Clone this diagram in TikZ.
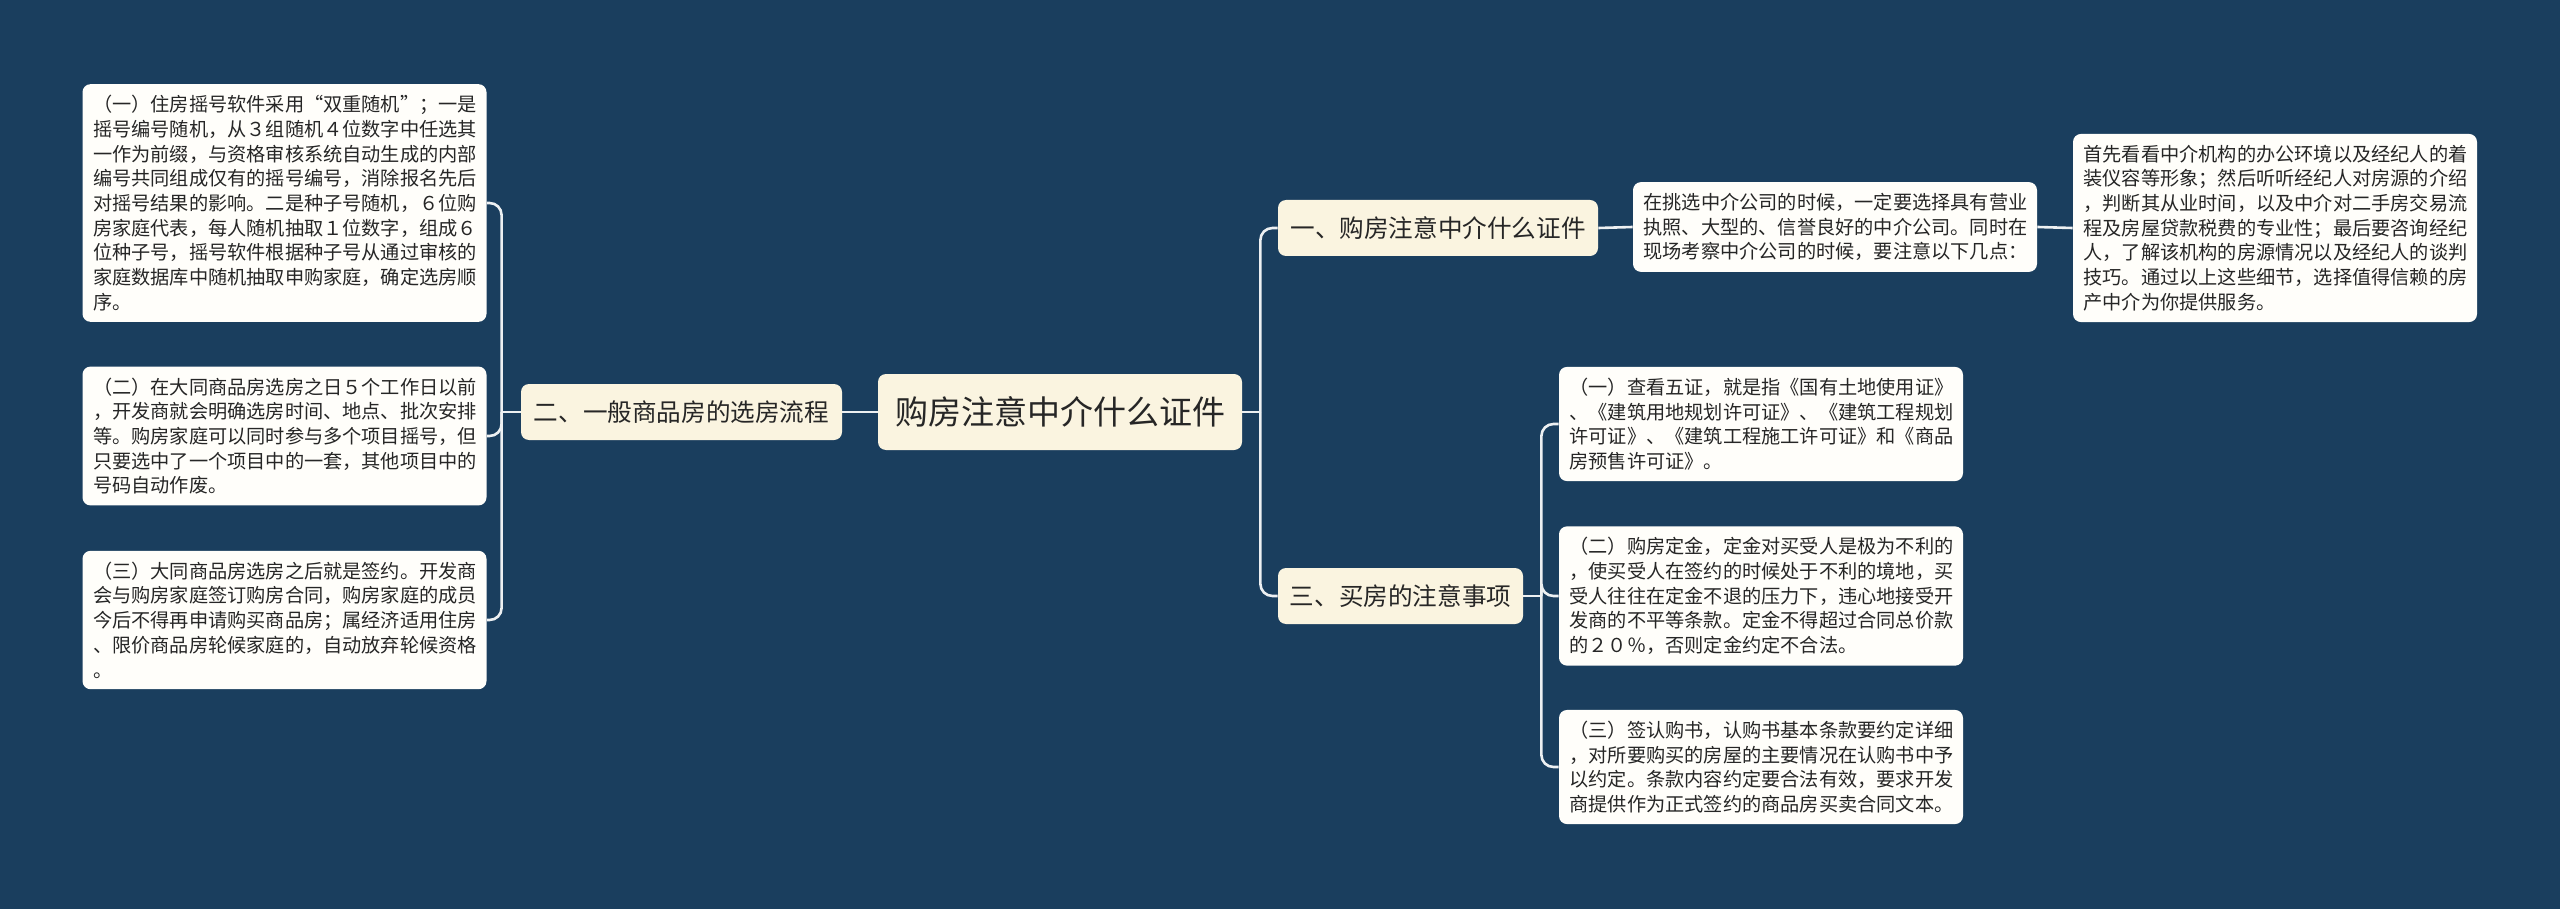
\documentclass[tikz,border=0pt]{standalone}
\usepackage{fontspec}
\setmainfont{Noto Sans CJK SC}
\usepackage{tikz}
\usetikzlibrary{positioning}
\definecolor{bgblue}{HTML}{1A3E5E}
\definecolor{cream}{HTML}{FAF4E0}
\definecolor{paper}{HTML}{FFFEFA}
\definecolor{ink}{HTML}{262626}
\tikzset{
  topic/.style={rounded corners=4pt,fill=cream,text=ink,minimum width=182pt,minimum height=38pt,
    font=\fontsize{16.5}{20}\selectfont},
  branch/.style={rounded corners=4pt,fill=cream,text=ink,minimum height=28pt,
    font=\fontsize{12.3}{15}\selectfont},
  leaf/.style={rounded corners=4pt,fill=paper,text=ink,text width=191.5pt,align=left,
    inner xsep=5.25pt,inner ysep=5.5pt,font=\fontsize{9.6}{12.35}\selectfont},
  link/.style={draw=white!92!bgblue,line width=1.3pt},
  elbow/.style={link,rounded corners=6pt},
}

\begin{document}
\begin{tikzpicture}[x=0.5pt,y=-0.5pt]
    \fill[bgblue] (0,0) rectangle (2560,909);
    \useasboundingbox (0,0) rectangle (2560,909);
    % ------------- centre -------------
    \node[topic] (root) at (1060,412) {购房注意中介什么证件};
    % ------------- left: 二 -------------
    \node[branch,minimum width=160.5pt] (two) at (681.5,412) {二、一般商品房的选房流程};
    \node[leaf] (two1) at (284.5,203) {（一）住房摇号软件采用“双重随机”；一是\\
      摇号编号随机，从３组随机４位数字中任选其\\
      一作为前缀，与资格审核系统自动生成的内部\\
      编号共同组成仅有的摇号编号，消除报名先后\\
      对摇号结果的影响。二是种子号随机，６位购\\
      房家庭代表，每人随机抽取１位数字，组成６\\
      位种子号，摇号软件根据种子号从通过审核的\\
      家庭数据库中随机抽取申购家庭，确定选房顺\\
      序。};
    \node[leaf] (two2) at (284.5,436) {（二）在大同商品房选房之日５个工作日以前\\
      ，开发商就会明确选房时间、地点、批次安排\\
      等。购房家庭可以同时参与多个项目摇号，但\\
      只要选中了一个项目中的一套，其他项目中的\\
      号码自动作废。};
    \node[leaf] (two3) at (284.5,620) {（三）大同商品房选房之后就是签约。开发商\\
      会与购房家庭签订购房合同，购房家庭的成员\\
      今后不得再申请购买商品房；属经济适用住房\\
      、限价商品房轮候家庭的，自动放弃轮候资格\\
      。};
    % ------------- right: 一 -------------
    \node[branch,minimum width=160pt] (one) at (1438,228) {一、购房注意中介什么证件};
    \node[leaf] (one1) at (1835,227) {在挑选中介公司的时候，一定要选择具有营业\\
      执照、大型的、信誉良好的中介公司。同时在\\
      现场考察中介公司的时候，要注意以下几点：};
    \node[leaf] (one2) at (2275,228) {首先看看中介机构的办公环境以及经纪人的着\\
      装仪容等形象；然后听听经纪人对房源的介绍\\
      ，判断其从业时间，以及中介对二手房交易流\\
      程及房屋贷款税费的专业性；最后要咨询经纪\\
      人，了解该机构的房源情况以及经纪人的谈判\\
      技巧。通过以上这些细节，选择值得信赖的房\\
      产中介为你提供服务。};
    % ------------- right: 三 -------------
    \node[branch,minimum width=122.5pt] (three) at (1400.5,596) {三、买房的注意事项};
    \node[leaf] (three1) at (1761,424) {（一）查看五证，就是指《国有土地使用证》\\
      、《建筑用地规划许可证》、《建筑工程规划\\
      许可证》、《建筑工程施工许可证》和《商品\\
      房预售许可证》。};
    \node[leaf] (three2) at (1761,596) {（二）购房定金，定金对买受人是极为不利的\\
      ，使买受人在签约的时候处于不利的境地，买\\
      受人往往在定金不退的压力下，违心地接受开\\
      发商的不平等条款。定金不得超过合同总价款\\
      的２０％，否则定金约定不合法。};
    \node[leaf] (three3) at (1761,767) {（三）签认购书，认购书基本条款要约定详细\\
      ，对所要购买的房屋的主要情况在认购书中予\\
      以约定。条款内容约定要合法有效，要求开发\\
      商提供作为正式签约的商品房买卖合同文本。};
    % ------------- links -------------
    \draw[link] (root.west) -- (two.east);
    \draw[link] (root.east) -- ++(18,0) coordinate (rj);
    \draw[elbow] (rj) |- (one.west);
    \draw[elbow] (rj) |- (three.west);
    \draw[link] (two.west) -- ++(-19,0) coordinate (lj);
    \foreach \c in {two1,two2,two3}
      \draw[elbow] (lj) |- (\c.east);
    \draw[link] (one.east) -- (one1.west);
    \draw[link] (one1.east) -- (one2.west);
    \draw[link] (three.east) -- ++(18,0) coordinate (tj);
    \foreach \c in {three1,three2,three3}
      \draw[elbow] (tj) |- (\c.west);
  \end{tikzpicture}
\end{document}
